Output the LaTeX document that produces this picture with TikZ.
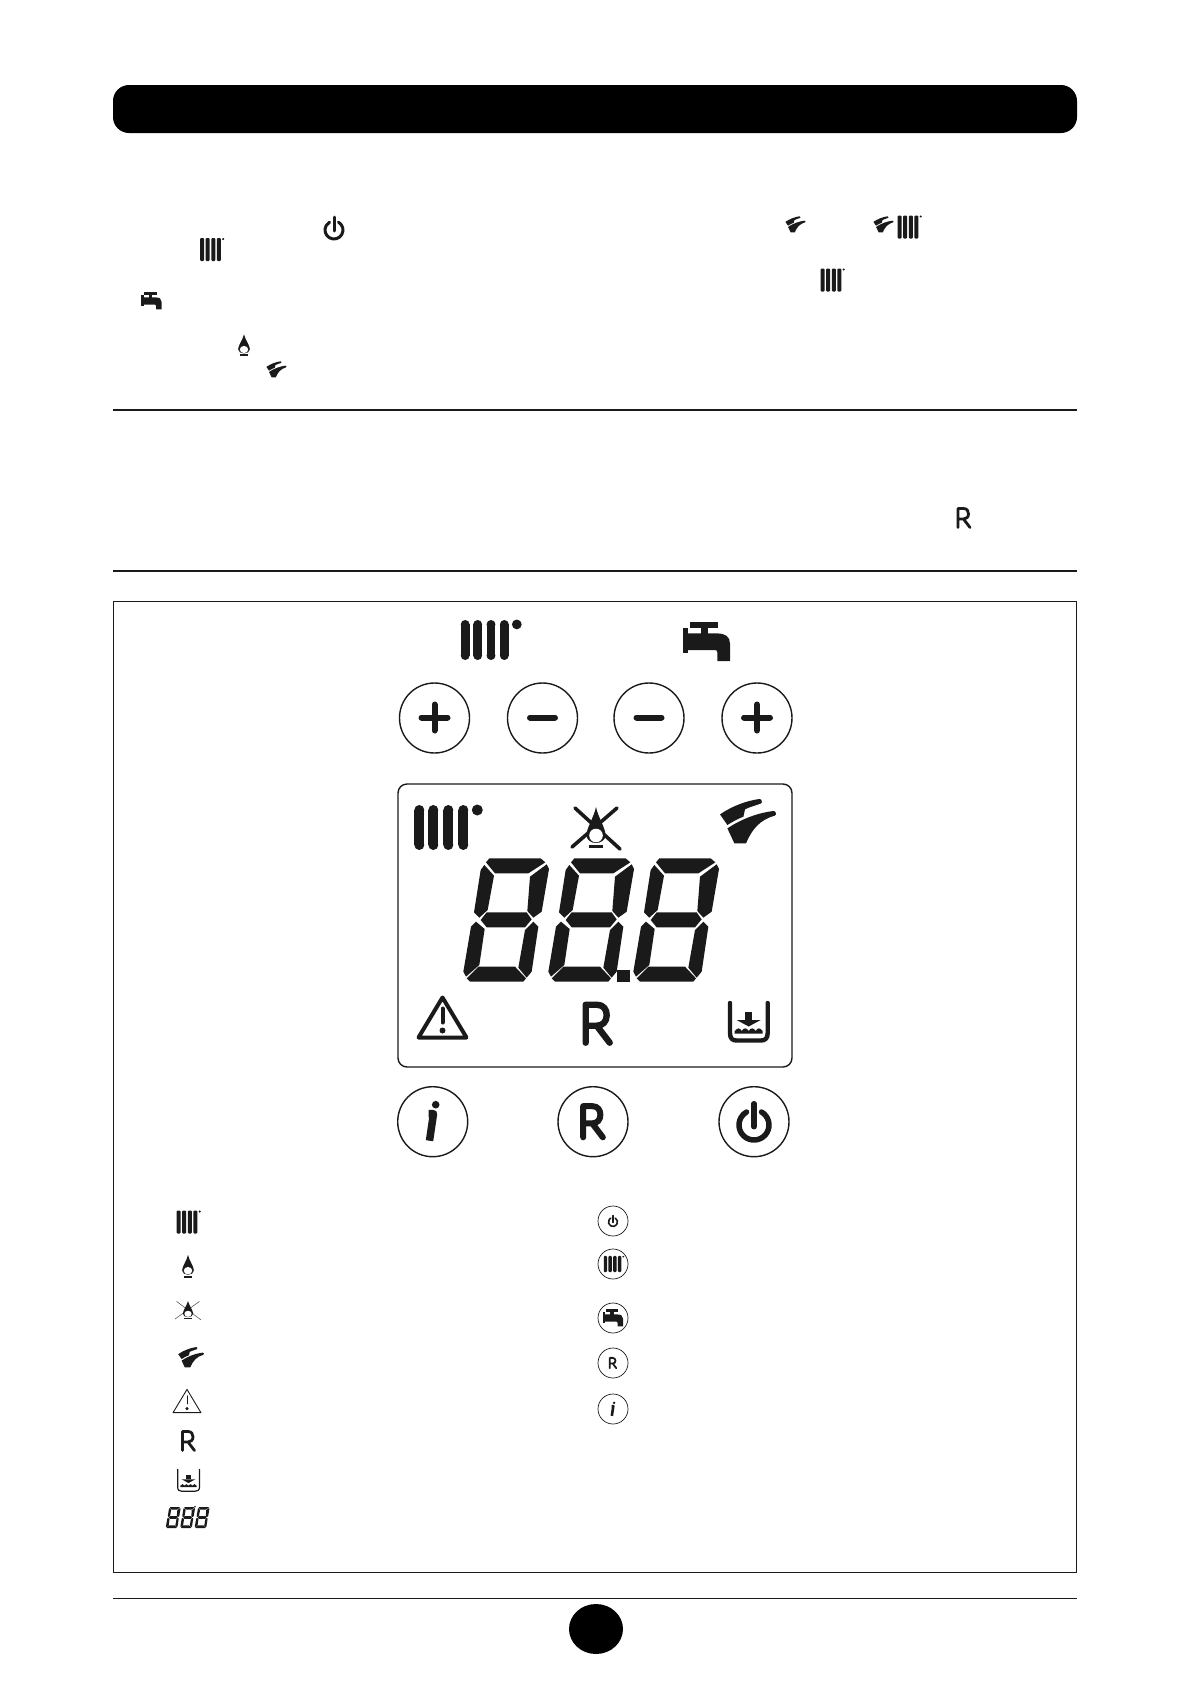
\documentclass[tikz,border=0pt]{standalone}
\usetikzlibrary{shapes.geometric}
\usepackage{xcolor}
\definecolor{ink}{HTML}{1A1A1A}
\newcommand{\flameshape}{
  \fill[ink] (0,-20) .. controls (2,-10) and (9.5,1) .. (9.5,8)
    .. controls (9.5,13) and (5,16) .. (0,16) .. controls (-5,16) and (-9.5,13) .. (-9.5,8)
    .. controls (-9.5,1) and (-2,-10) .. (0,-20) -- cycle;
  \fill[white] (0,8.5) circle[radius=6.8];
  \fill[ink] (-7,17.5) rectangle (7,21);
}
\tikzset{
  symline/.style={draw=ink,line cap=round,line join=round},
  btn/.style={circle,draw=ink,line width=1.4pt,minimum size=70pt,inner sep=0pt},
  keyring/.style={circle,draw=ink,line width=.7pt,minimum size=30pt,inner sep=0pt},
  pagerule/.style={draw=ink,line width=1.8pt},
  pics/radiator/.style={code={
    \foreach \barx in {-21.7,-7.7,7.3,22.3} {
      \fill[ink] (\barx-5,-17.5) rectangle (\barx+5,17.5);
      \fill[ink] (\barx,-17.5) circle[radius=5];
      \fill[ink] (\barx,17.5) circle[radius=5];
    }
    \fill[ink] (36.3,-17.5) circle[radius=5.5];
  }},
  pics/miniradiator/.style={code={
    \foreach \barx in {-8.3,-2.8,2.8,8.3}
      \fill[ink,rounded corners=1pt] (\barx-2,-11.5) rectangle (\barx+2,11.5);
    \fill[ink] (12.7,-10.5) circle[radius=1.2];
  }},
  pics/tap/.style={code={
    \fill[ink] (-16.7,-20) rectangle (11.7,-13.3);
    \fill[ink] (-6,-14) rectangle (1.7,-7);
    \fill[ink] (-23.3,-13.3) rectangle (-18.3,11.7);
    \fill[ink] (-18.5,-8.3) -- (10,-8.3) .. controls (19,-8.3) and (23.3,-5) .. (23.3,2)
      -- (23.3,19.3) -- (10.7,19.3) -- (10.7,11) .. controls (10.7,9) and (10,8.3) .. (8,8.3)
      -- (-18.5,8.3) -- cycle;
  }},
  pics/flame/.style={code={\flameshape}},
  pics/noflame/.style={code={
    \draw[symline] (-21,-19) -- (24,22) (21,-19) -- (-24,20);
    \flameshape
  }},
  pics/mixer/.style={code={
    \fill[ink] (-26.7,-7.3) .. controls (-14,-16) and (0,-21) .. (12.7,-22.7)
      .. controls (15,-23) and (16,-19) .. (14.3,-18.3) .. controls (9,-16) and (3,-15) .. (-1.7,-12.3)
      -- (-3.3,-5) .. controls (-9,-3) and (-14,0) .. (-19.3,3.3) -- cycle;
    \fill[ink] (-19.3,6.7) .. controls (-5,-3) and (12,-9) .. (26.7,-10.7)
      .. controls (29.5,-11) and (30,-6.5) .. (28,-6) .. controls (13,-2) and (5,8) .. (-.7,21.7)
      -- (-12.3,21.7) -- cycle;
  }},
  pics/warnsign/.style={code={
    \draw[symline] (0,-20) -- (24,20) -- (-24,20) -- cycle;
    \draw[symline] (0,-9) -- (0,5);
    \fill[ink] (0,13) circle[radius=3];
  }},
  pics/rlogo/.style={code={
    \draw[symline] (-12,19) -- (-12,-19) -- (-1,-19)
      .. controls (6,-19) and (9,-14) .. (9,-8.5) .. controls (9,-2) and (5,2) .. (-1,2)
      -- (-12,2) (-1,2) -- (12,19);
  }},
  pics/tank/.style={code={
    \draw[symline] (-18.7,-20) -- (-18.7,10) .. controls (-18.7,16) and (-16,17.5) .. (-12,17.5)
      -- (12,17.5) .. controls (16,17.5) and (19,16) .. (19,10) -- (19,-20);
    \fill[ink] (-3.5,-11) rectangle (3.5,-3);
    \fill[ink] (-12,-3) -- (12,-3) -- (0,3.5) -- cycle;
    \fill[ink] (-14,8) .. controls (-11,4.5) and (-9,4.5) .. (-7,8)
      .. controls (-5,4.5) and (-2,4.5) .. (0,8) .. controls (2,4.5) and (5,4.5) .. (7,8)
      .. controls (9,4.5) and (11,4.5) .. (14,8) -- (14,10.5) -- (-14,10.5) -- cycle;
  }},
  pics/powerkey/.style={code={
    \draw[symline] (0,-18) -- (0,5);
    \draw[symline] (7.5,-9.7) arc[start angle=-60,end angle=240,radius=15];
  }},
  pics/infokey/.style={code={
    \fill[ink] (3,-17) circle[radius=3.8];
    \draw[symline,line cap=butt] (-4,-8) -- (.8,-8) -- (-3.2,19);
  }},
  pics/digits/.style={code={
    \begin{scope}[scale=1/3,shift={(-600,-435)}]
    \foreach \digx in {0,255,510} {
      \begin{scope}[shift={(\digx,0)}]
      \fill[ink] (298,250) -- (452,250) -- (466,262) -- (415,295) -- (315,295) -- (288,262) -- cycle;
      \fill[ink] (470,268) -- (477,282) -- (455,410) -- (430,428) -- (412,408) -- (420,305) -- cycle;
      \fill[ink] (283,270) -- (312,302) -- (293,405) -- (268,428) -- (252,412) -- (272,285) -- cycle;
      \fill[ink] (290,412) -- (410,412) -- (425,433) -- (405,457) -- (290,457) -- (272,435) -- cycle;
      \fill[ink] (258,440) -- (284,462) -- (268,570) -- (228,605) -- (220,590) -- (243,455) -- cycle;
      \fill[ink] (430,440) -- (445,455) -- (425,590) -- (410,608) -- (385,578) -- (405,465) -- cycle;
      \fill[ink] (265,575) -- (375,575) -- (408,610) -- (400,620) -- (240,620) -- (230,610) -- cycle;
      \end{scope}
    }
    \end{scope}
  }}
}

\begin{document}
\begin{tikzpicture}[x=1pt,y=-1pt]
\useasboundingbox (0,0) rectangle (1191,1684);
% Header and text rules
\fill[black,rounded corners=16pt] (113,85) rectangle (1077,133);
\path[pagerule] (113,410) -- (1077,410);
\path[pagerule] (113,571) -- (1077,571);
\draw[ink,line width=1pt] (113.3,601.3) rectangle (1076.7,1572.5);
\draw[ink,line width=1pt] (113,1598) -- (1077,1598);
\node[ellipse,fill=black,minimum width=54pt,minimum height=50pt,inner sep=0pt] (pagenum) at (596,1629) {};
% Symbols in the running text
\pic[scale=.6,line width=3pt] at (334,228) {powerkey};
\pic at (210.5,249.5) {miniradiator};
\pic[scale=.36] at (795,224.5) {mixer};
\pic[scale=.36] at (883,224.5) {mixer};
\pic at (908,227) {miniradiator};
\pic at (831,280) {miniradiator};
\pic[scale=.43] at (151.5,301) {tap};
\pic[xscale=.62,yscale=.53] at (244,345) {flame};
\pic[scale=.36] at (276,369.5) {mixer};
\pic[scale=.5,line width=2.8pt] at (964,518) {rlogo};
% Upper keys
\pic[scale=.89] at (484.5,640) {radiator};
\pic at (706.7,641.7) {tap};
\foreach \keyname/\keyx in {plusA/434.5,minusA/542.5,minusB/649,plusB/757}
  \node[btn] (\keyname) at (\keyx,718) {};
\foreach \keyx in {434.5,757} {
  \draw[symline,line width=6pt] (\keyx-13,717.5) -- (\keyx+13,717.5);
  \draw[symline,line width=6pt] (\keyx,704.5) -- (\keyx,730.5);
}
\foreach \keyx in {542.5,649}
  \draw[symline,line width=6pt] (\keyx-12.5,717.5) -- (\keyx+12.5,717.5);
% Display
\draw[ink,line width=1.4pt,rounded corners=9pt] (398,784) rectangle (792,1067);
\pic at (441,827.5) {radiator};
\pic[line width=3.6pt] at (596,827) {noflame};
\pic at (746.7,821.7) {mixer};
\pic at (590,920) {digits};
\fill[ink] (617.3,970) rectangle (630,982.3);
\pic[line width=4pt] at (442.5,1017.5) {warnsign};
\pic[line width=6.4pt] at (597.7,1023.7) {rlogo};
\pic[line width=4.4pt] at (748.7,1023) {tank};
% Lower keys
\node[btn] (infobtn) at (432.7,1121.7) {};
\node[btn] (resetbtn) at (593,1121.7) {};
\node[btn] (powerbtn) at (754,1121.7) {};
\pic[line width=7.5pt] at (infobtn) {infokey};
\pic[scale=.82,line width=6pt] at (resetbtn) {rlogo};
\pic[line width=5.5pt] at (powerbtn) {powerkey};
% Left legend
\pic at (187,1222) {miniradiator};
\pic[xscale=.62,yscale=.55] at (188,1266) {flame};
\pic[xscale=.54,yscale=.45,line width=.6pt,draw opacity=.7] at (188,1310) {noflame};
\pic[scale=.46] at (190.5,1357.5) {mixer};
\pic[scale=.58,line width=.9pt] at (187,1401) {warnsign};
\pic[scale=.5,line width=2.8pt] at (188.5,1441) {rlogo};
\pic[scale=.58,line width=1.2pt] at (188.5,1481) {tank};
\pic[scale=.17] at (187.5,1517.5) {digits};
\fill[ink] (195,1506.8) circle[radius=.9];
% Right legend
\foreach \ringname/\ringy in {ringA/1221,ringB/1264,ringC/1318,ringD/1363,ringE/1409}
  \node[keyring] (\ringname) at (613,\ringy) {};
\pic[scale=.3,line width=1.6pt] at (ringA) {powerkey};
\pic[xscale=.85,yscale=.7] at (612.5,1264) {miniradiator};
\pic[scale=.43] at (ringC) {tap};
\pic[scale=.27,line width=1.8pt] at (ringD) {rlogo};
\pic[scale=.36,line width=2.6pt] at (ringE) {infokey};
\end{tikzpicture}
\end{document}
